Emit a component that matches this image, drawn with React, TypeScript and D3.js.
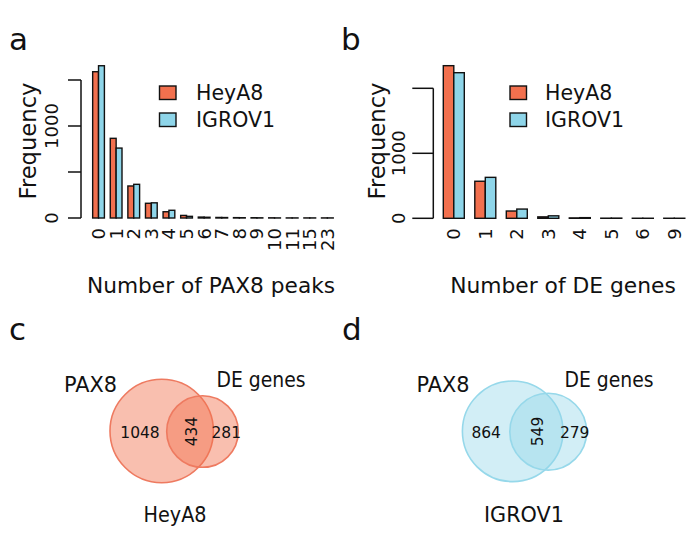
import React from "react";
import * as d3 from "d3";

const seriesNames = ["HeyA8", "IGROV1"];
const seriesColors = ["#F2704E", "#8ED5E9"];

const peakCats = ["0", "1", "2", "3", "4", "5", "6", "7", "8", "9", "10", "11", "15", "23"];
const peakHeyA8 = [1590, 866, 348, 160, 68, 28, 10, 6, 4, 3, 2, 1, 1, 1];
const peakIGROV1 = [1655, 760, 366, 165, 84, 18, 8, 5, 3, 2, 1, 1, 1, 1];
const peakTicks = [0, 500, 1000, 1500];
const peakTickLabels = ["0", "", "1000", ""];

const deCats = ["0", "1", "2", "3", "4", "5", "6", "9"];
const deHeyA8 = [2348, 570, 112, 22, 6, 2, 1, 1];
const deIGROV1 = [2240, 630, 142, 38, 10, 3, 1, 1];
const deTicks = [0, 1000, 2000];
const deTickLabels = ["0", "1000", ""];

const vennHeyA8 = [1048, 434, 281];
const vennIGROV1 = [864, 549, 279];
const vennSetNames = ["PAX8", "DE genes"];

const FONT = "DejaVu Sans";

function BarPanel(props: {
  cats: string[];
  a: number[];
  b: number[];
  ticks: number[];
  tickLabels: string[];
  yMax: number;
  y0: number;
  y1: number;
  xr: [number, number];
  axisX: number;
  tickLen: number;
  tickLabelX: number;
  freqX: number;
  title: string;
  titleX: number;
  titleSize: number;
  legX: number;
  legTextX: number;
}) {
  const x = d3.scaleBand<string>().domain(props.cats).range(props.xr).paddingInner(1 / 3).paddingOuter(1 / 3);
  const xi = d3.scaleBand<string>().domain(seriesNames).range([0, x.bandwidth()]);
  const y = d3.scaleLinear().domain([0, props.yMax]).range([props.y0, props.y1]);
  const vals = [props.a, props.b];
  const yTop = y(props.ticks[props.ticks.length - 1]);
  return (
    <g>
      {props.cats.map((c, i) =>
        seriesNames.map((s, k) => (
          <rect
            key={c + s}
            x={(x(c) as number) + (xi(s) as number)}
            y={y(vals[k][i])}
            width={xi.bandwidth()}
            height={Math.max(0, y(0) - y(vals[k][i]))}
            fill={seriesColors[k]}
            stroke="#111"
            strokeWidth={1.4}
          />
        ))
      )}
      <line x1={props.axisX} x2={props.axisX} y1={y(0)} y2={yTop} stroke="#111" strokeWidth={1.5} />
      {props.ticks.map((t, i) => (
        <g key={t}>
          <line x1={props.axisX - props.tickLen} x2={props.axisX} y1={y(t)} y2={y(t)} stroke="#111" strokeWidth={1.5} />
          {props.tickLabels[i] && (
            <text
              transform={`translate(${props.tickLabelX},${y(t)}) rotate(-90)`}
              textAnchor="middle"
              dy="0.36em"
              fontFamily={FONT}
              fontSize={18}
              fill="#111"
            >
              {props.tickLabels[i]}
            </text>
          )}
        </g>
      ))}
      {props.cats.map((c) => (
        <text
          key={"l" + c}
          transform={`translate(${(x(c) as number) + x.bandwidth() / 2},${props.y0 + 10}) rotate(-90)`}
          textAnchor="end"
          dy="0.36em"
          fontFamily={FONT}
          fontSize={18}
          fill="#111"
        >
          {c}
        </text>
      ))}
      <text
        transform={`translate(${props.freqX},141) rotate(-90)`}
        textAnchor="middle"
        dy="0.36em"
        fontFamily={FONT}
        fontSize={23}
        fill="#111"
        textLength={117}
        lengthAdjust="spacingAndGlyphs"
      >
        Frequency
      </text>
      <text x={props.titleX} y={293} textAnchor="middle" fontFamily={FONT} fontSize={props.titleSize} fill="#111">
        {props.title}
      </text>
      {seriesNames.map((s, k) => (
        <g key={"leg" + s}>
          <rect x={props.legX} y={86 + k * 27} width={16.5} height={13.5} fill={seriesColors[k]} stroke="#111" strokeWidth={1.4} />
          <text x={props.legTextX} y={100 + k * 27} fontFamily={FONT} fontSize={20.5} fill="#111">
            {s}
          </text>
        </g>
      ))}
    </g>
  );
}

function Venn(props: {
  vals: number[];
  color: string;
  stroke: string;
  alpha: number;
  c1: [number, number, number];
  c2: [number, number, number];
  label: string;
  labelX: number;
  labelLen: number;
  pax8X: number;
  deX: number;
  numX: [number, number, number];
}) {
  const { c1, c2 } = props;
  return (
    <g>
      <circle cx={c1[0]} cy={c1[1]} r={c1[2]} fill={props.color} fillOpacity={props.alpha} stroke={props.stroke} strokeWidth={1.6} />
      <circle cx={c2[0]} cy={c2[1]} r={c2[2]} fill={props.color} fillOpacity={props.alpha} stroke={props.stroke} strokeWidth={1.6} />
      <text x={props.numX[0]} y={437.5} textAnchor="middle" fontFamily={FONT} fontSize={15.5} fill="#111">
        {props.vals[0]}
      </text>
      <text
        transform={`translate(${props.numX[1]},431.5) rotate(-90)`}
        textAnchor="middle"
        dy="0.36em"
        fontFamily={FONT}
        fontSize={15.5}
        fill="#111"
      >
        {props.vals[1]}
      </text>
      <text x={props.numX[2]} y={437.5} textAnchor="middle" fontFamily={FONT} fontSize={15.5} fill="#111">
        {props.vals[2]}
      </text>
      <text x={props.pax8X} y={391.5} fontFamily={FONT} fontSize={21} fill="#111" textLength={53} lengthAdjust="spacingAndGlyphs">
        {vennSetNames[0]}
      </text>
      <text x={props.deX} y={387} fontFamily={FONT} fontSize={21} fill="#111" textLength={89} lengthAdjust="spacingAndGlyphs">
        {vennSetNames[1]}
      </text>
      <text
        x={props.labelX}
        y={521.5}
        textAnchor="middle"
        fontFamily={FONT}
        fontSize={21}
        fill="#111"
        textLength={props.labelLen}
        lengthAdjust="spacingAndGlyphs"
      >
        {props.label}
      </text>
    </g>
  );
}

export default function App() {
  return (
    <svg width={688} height={542} style={{ position: "absolute", left: 0, top: 0, background: "#fff" }}>
      <rect x={0} y={0} width={688} height={542} fill="#fff" />
      <g fontFamily={FONT} fill="#111">
        <text x={9} y={50} fontSize={31}>a</text>
        <text x={341} y={50} fontSize={31}>b</text>
        <text x={9} y={340} fontSize={31}>c</text>
        <text x={342} y={340} fontSize={31}>d</text>
      </g>
      <BarPanel
        cats={peakCats}
        a={peakHeyA8}
        b={peakIGROV1}
        ticks={peakTicks}
        tickLabels={peakTickLabels}
        yMax={1500}
        y0={218}
        y1={80}
        xr={[86.8, 339.1]}
        axisX={81}
        tickLen={13}
        tickLabelX={52}
        freqX={28}
        title="Number of PAX8 peaks"
        titleX={211}
        titleSize={21.7}
        legX={159.5}
        legTextX={196}
      />
      <BarPanel
        cats={deCats}
        a={deHeyA8}
        b={deIGROV1}
        ticks={deTicks}
        tickLabels={deTickLabels}
        yMax={2000}
        y0={218.3}
        y1={88.3}
        xr={[432.8, 695.3]}
        axisX={433.3}
        tickLen={21}
        tickLabelX={399}
        freqX={377}
        title="Number of DE genes"
        titleX={563}
        titleSize={21.8}
        legX={510}
        legTextX={545}
      />
      <Venn
        vals={vennHeyA8}
        color="#F2704E"
        stroke="#EE7A60"
        alpha={0.45}
        c1={[161.7, 431, 51.7]}
        c2={[202.5, 431.5, 35.8]}
        label="HeyA8"
        labelX={175}
        labelLen={63}
        pax8X={64}
        deX={216.5}
        numX={[140, 191.7, 226.3]}
      />
      <Venn
        vals={vennIGROV1}
        color="#8ED5E9"
        stroke="#96D8EA"
        alpha={0.4}
        c1={[512.7, 431.3, 50.3]}
        c2={[548.2, 431.7, 38.4]}
        label="IGROV1"
        labelX={524}
        labelLen={80}
        pax8X={416.5}
        deX={564.5}
        numX={[486.2, 537.3, 574.7]}
      />
    </svg>
  );
}
